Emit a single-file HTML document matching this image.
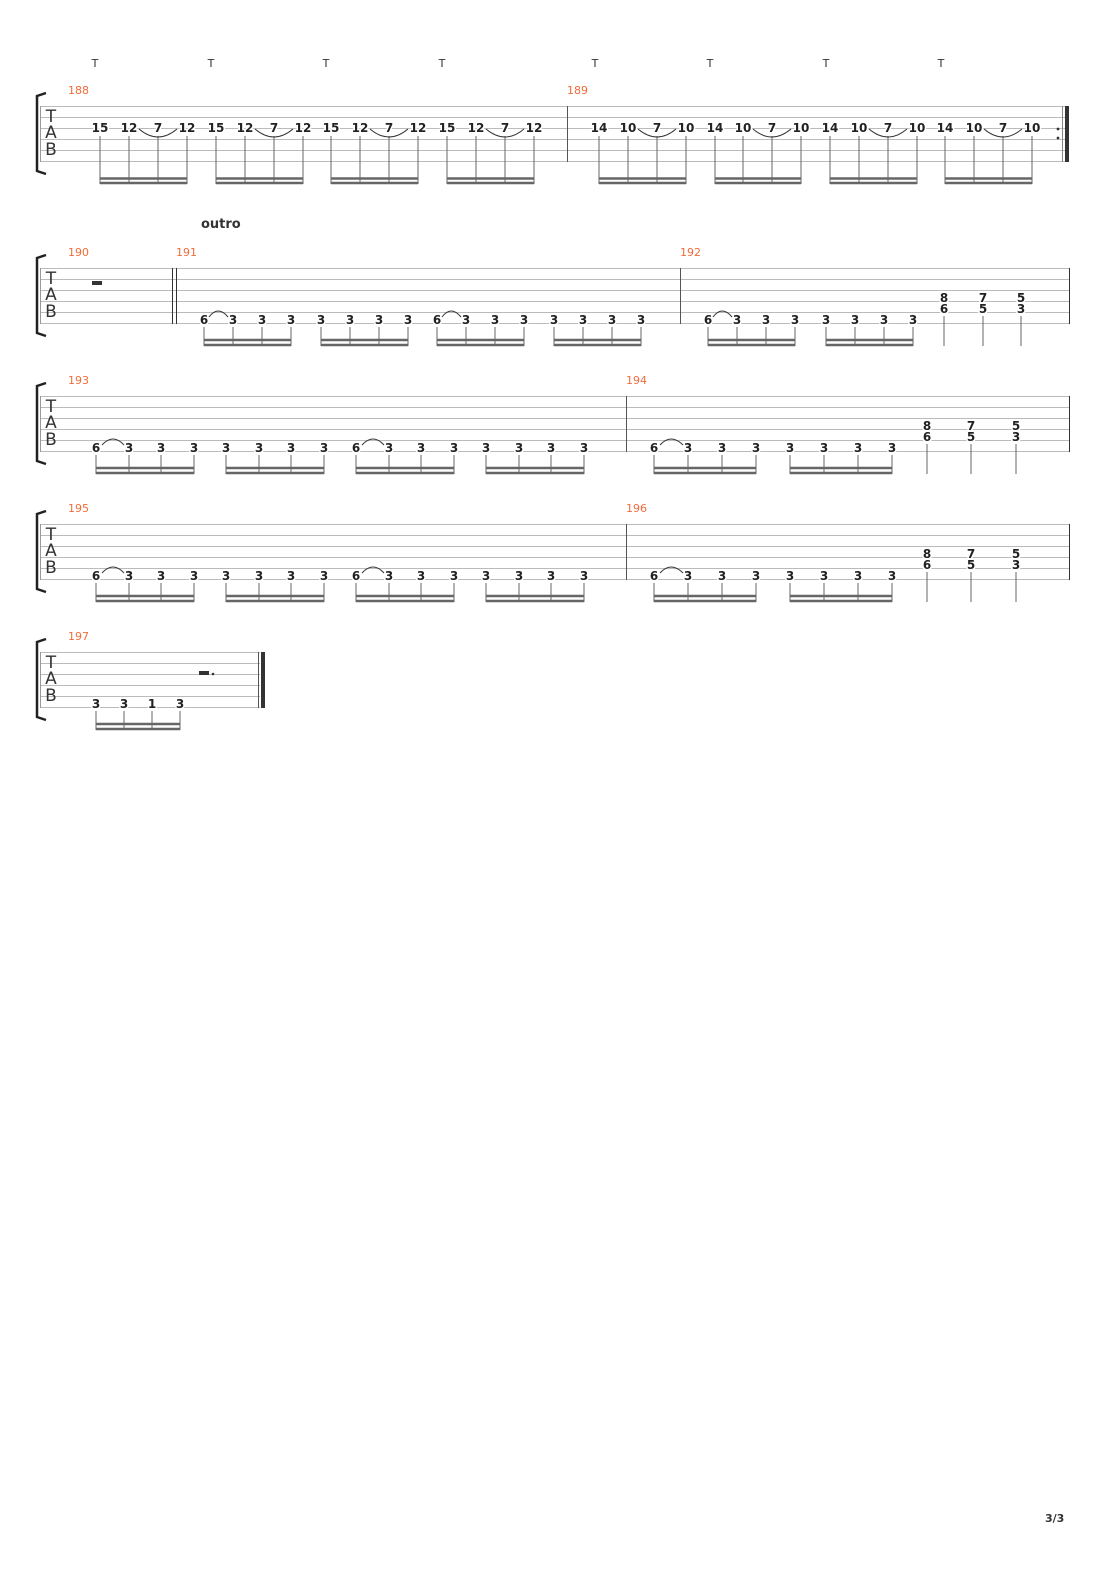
<!DOCTYPE html>
<html><head><meta charset="utf-8"><style>
body{margin:0;background:#fff}
svg{display:block}
.n{font:bold 12px "DejaVu Sans","Liberation Sans",sans-serif;text-anchor:middle;fill:#222;stroke:#fff;stroke-width:3;paint-order:stroke}
.m{font:11px "DejaVu Sans","Liberation Sans",sans-serif;fill:#f26b3a}
.tab{font:17px "DejaVu Sans","Liberation Sans",sans-serif;fill:#333;text-anchor:middle}
.t{font:11px "DejaVu Sans",sans-serif;fill:#333;text-anchor:middle}
.sl line{stroke:#bbb;stroke-width:1}
.st{stroke:#666;stroke-width:1}
.bm{stroke:#666;stroke-width:2.5}
.arc{fill:none;stroke:#333;stroke-width:1}
</style></head><body>
<svg width="1110" height="1570" xmlns="http://www.w3.org/2000/svg">
<!-- System 1 -->
<g class="t"><text x="95" y="67">T</text><text x="211" y="67">T</text><text x="326" y="67">T</text><text x="442" y="67">T</text><text x="595" y="67">T</text><text x="710" y="67">T</text><text x="826" y="67">T</text><text x="941" y="67">T</text></g>
<g class="sl"><line x1="40" y1="106.5" x2="1068" y2="106.5"/><line x1="40" y1="117.5" x2="1068" y2="117.5"/><line x1="40" y1="128.5" x2="1068" y2="128.5"/><line x1="40" y1="139.5" x2="1068" y2="139.5"/><line x1="40" y1="150.5" x2="1068" y2="150.5"/><line x1="40" y1="161.5" x2="1068" y2="161.5"/></g>
<line x1="40.5" y1="106" x2="40.5" y2="162" stroke="#999"/>
<path d="M46 93 L37 96 L37 171 L46 174" fill="none" stroke="#222" stroke-width="2.5"/>
<text class="tab" x="51" y="122">T</text><text class="tab" x="51" y="138">A</text><text class="tab" x="51" y="155">B</text>
<text class="m" x="68" y="94">188</text><text class="m" x="567" y="94">189</text>
<line x1="567.5" y1="106" x2="567.5" y2="162" stroke="#555"/>
<line x1="1062.5" y1="106" x2="1062.5" y2="162" stroke="#888"/>
<rect x="1065" y="106" width="4" height="56" fill="#333"/>
<circle cx="1058" cy="129" r="1.4" fill="#333"/><circle cx="1058" cy="138" r="1.4" fill="#333"/>
<g class="st">
<line x1="100" y1="136" x2="100" y2="184"/><line x1="129" y1="136" x2="129" y2="184"/><line x1="158" y1="136" x2="158" y2="184"/><line x1="187" y1="136" x2="187" y2="184"/>
<line x1="216" y1="136" x2="216" y2="184"/><line x1="245" y1="136" x2="245" y2="184"/><line x1="274" y1="136" x2="274" y2="184"/><line x1="303" y1="136" x2="303" y2="184"/>
<line x1="331" y1="136" x2="331" y2="184"/><line x1="360" y1="136" x2="360" y2="184"/><line x1="389" y1="136" x2="389" y2="184"/><line x1="418" y1="136" x2="418" y2="184"/>
<line x1="447" y1="136" x2="447" y2="184"/><line x1="476" y1="136" x2="476" y2="184"/><line x1="505" y1="136" x2="505" y2="184"/><line x1="534" y1="136" x2="534" y2="184"/>
<line x1="599" y1="136" x2="599" y2="184"/><line x1="628" y1="136" x2="628" y2="184"/><line x1="657" y1="136" x2="657" y2="184"/><line x1="686" y1="136" x2="686" y2="184"/>
<line x1="715" y1="136" x2="715" y2="184"/><line x1="743" y1="136" x2="743" y2="184"/><line x1="772" y1="136" x2="772" y2="184"/><line x1="801" y1="136" x2="801" y2="184"/>
<line x1="830" y1="136" x2="830" y2="184"/><line x1="859" y1="136" x2="859" y2="184"/><line x1="888" y1="136" x2="888" y2="184"/><line x1="917" y1="136" x2="917" y2="184"/>
<line x1="945" y1="136" x2="945" y2="184"/><line x1="974" y1="136" x2="974" y2="184"/><line x1="1003" y1="136" x2="1003" y2="184"/><line x1="1032" y1="136" x2="1032" y2="184"/>
</g>
<g class="bm">
<line x1="100" y1="178.5" x2="187" y2="178.5"/><line x1="100" y1="183" x2="187" y2="183"/>
<line x1="216" y1="178.5" x2="303" y2="178.5"/><line x1="216" y1="183" x2="303" y2="183"/>
<line x1="331" y1="178.5" x2="418" y2="178.5"/><line x1="331" y1="183" x2="418" y2="183"/>
<line x1="447" y1="178.5" x2="534" y2="178.5"/><line x1="447" y1="183" x2="534" y2="183"/>
<line x1="599" y1="178.5" x2="686" y2="178.5"/><line x1="599" y1="183" x2="686" y2="183"/>
<line x1="715" y1="178.5" x2="801" y2="178.5"/><line x1="715" y1="183" x2="801" y2="183"/>
<line x1="830" y1="178.5" x2="917" y2="178.5"/><line x1="830" y1="183" x2="917" y2="183"/>
<line x1="945" y1="178.5" x2="1032" y2="178.5"/><line x1="945" y1="183" x2="1032" y2="183"/>
</g>
<g class="arc">
<path d="M139 129 Q158 145 177 129"/><path d="M255 129 Q274 145 293 129"/><path d="M370 129 Q389 145 408 129"/><path d="M486 129 Q505 145 524 129"/>
<path d="M638 129 Q657 145 676 129"/><path d="M753 129 Q772 145 791 129"/><path d="M869 129 Q888 145 907 129"/><path d="M984 129 Q1003 145 1022 129"/>
</g>
<g class="n">
<text x="100" y="132">15</text><text x="129" y="132">12</text><text x="158" y="132">7</text><text x="187" y="132">12</text>
<text x="216" y="132">15</text><text x="245" y="132">12</text><text x="274" y="132">7</text><text x="303" y="132">12</text>
<text x="331" y="132">15</text><text x="360" y="132">12</text><text x="389" y="132">7</text><text x="418" y="132">12</text>
<text x="447" y="132">15</text><text x="476" y="132">12</text><text x="505" y="132">7</text><text x="534" y="132">12</text>
<text x="599" y="132">14</text><text x="628" y="132">10</text><text x="657" y="132">7</text><text x="686" y="132">10</text>
<text x="715" y="132">14</text><text x="743" y="132">10</text><text x="772" y="132">7</text><text x="801" y="132">10</text>
<text x="830" y="132">14</text><text x="859" y="132">10</text><text x="888" y="132">7</text><text x="917" y="132">10</text>
<text x="945" y="132">14</text><text x="974" y="132">10</text><text x="1003" y="132">7</text><text x="1032" y="132">10</text>
</g>

<!-- System 2 -->
<text x="201" y="228" style="font:bold 13px 'DejaVu Sans',sans-serif;fill:#333">outro</text>
<g class="sl"><line x1="40" y1="268.5" x2="1070" y2="268.5"/><line x1="40" y1="279.5" x2="1070" y2="279.5"/><line x1="40" y1="290.5" x2="1070" y2="290.5"/><line x1="40" y1="301.5" x2="1070" y2="301.5"/><line x1="40" y1="312.5" x2="1070" y2="312.5"/><line x1="40" y1="323.5" x2="1070" y2="323.5"/></g>
<line x1="40.5" y1="268" x2="40.5" y2="324" stroke="#999"/>
<path d="M46 255 L37 258 L37 333 L46 336" fill="none" stroke="#222" stroke-width="2.5"/>
<text class="tab" x="51" y="284">T</text><text class="tab" x="51" y="300">A</text><text class="tab" x="51" y="317">B</text>
<text class="m" x="68" y="256">190</text><text class="m" x="176" y="256">191</text><text class="m" x="680" y="256">192</text>
<rect x="92" y="281" width="10" height="4" fill="#333"/>
<line x1="172.5" y1="268" x2="172.5" y2="324" stroke="#333"/><line x1="176.5" y1="268" x2="176.5" y2="324" stroke="#333"/>
<line x1="680.5" y1="268" x2="680.5" y2="324" stroke="#555"/><line x1="1069.5" y1="268" x2="1069.5" y2="324" stroke="#333"/>
<g class="st">
<line x1="204" y1="327" x2="204" y2="346"/><line x1="233" y1="327" x2="233" y2="346"/><line x1="262" y1="327" x2="262" y2="346"/><line x1="291" y1="327" x2="291" y2="346"/>
<line x1="321" y1="327" x2="321" y2="346"/><line x1="350" y1="327" x2="350" y2="346"/><line x1="379" y1="327" x2="379" y2="346"/><line x1="408" y1="327" x2="408" y2="346"/>
<line x1="437" y1="327" x2="437" y2="346"/><line x1="466" y1="327" x2="466" y2="346"/><line x1="495" y1="327" x2="495" y2="346"/><line x1="524" y1="327" x2="524" y2="346"/>
<line x1="554" y1="327" x2="554" y2="346"/><line x1="583" y1="327" x2="583" y2="346"/><line x1="612" y1="327" x2="612" y2="346"/><line x1="641" y1="327" x2="641" y2="346"/>
<line x1="708" y1="327" x2="708" y2="346"/><line x1="737" y1="327" x2="737" y2="346"/><line x1="766" y1="327" x2="766" y2="346"/><line x1="795" y1="327" x2="795" y2="346"/>
<line x1="826" y1="327" x2="826" y2="346"/><line x1="855" y1="327" x2="855" y2="346"/><line x1="884" y1="327" x2="884" y2="346"/><line x1="913" y1="327" x2="913" y2="346"/>
<line x1="944" y1="316" x2="944" y2="346"/><line x1="983" y1="316" x2="983" y2="346"/><line x1="1021" y1="316" x2="1021" y2="346"/>
</g>
<g class="bm">
<line x1="204" y1="340" x2="291" y2="340"/><line x1="204" y1="345" x2="291" y2="345"/>
<line x1="321" y1="340" x2="408" y2="340"/><line x1="321" y1="345" x2="408" y2="345"/>
<line x1="437" y1="340" x2="524" y2="340"/><line x1="437" y1="345" x2="524" y2="345"/>
<line x1="554" y1="340" x2="641" y2="340"/><line x1="554" y1="345" x2="641" y2="345"/>
<line x1="708" y1="340" x2="795" y2="340"/><line x1="708" y1="345" x2="795" y2="345"/>
<line x1="826" y1="340" x2="913" y2="340"/><line x1="826" y1="345" x2="913" y2="345"/>
</g>
<g class="arc"><path d="M209 317 Q218 305 228 317"/><path d="M442 317 Q451 305 461 317"/><path d="M713 317 Q722 305 732 317"/></g>
<g class="n">
<text x="204" y="324">6</text><text x="233" y="324">3</text><text x="262" y="324">3</text><text x="291" y="324">3</text>
<text x="321" y="324">3</text><text x="350" y="324">3</text><text x="379" y="324">3</text><text x="408" y="324">3</text>
<text x="437" y="324">6</text><text x="466" y="324">3</text><text x="495" y="324">3</text><text x="524" y="324">3</text>
<text x="554" y="324">3</text><text x="583" y="324">3</text><text x="612" y="324">3</text><text x="641" y="324">3</text>
<text x="708" y="324">6</text><text x="737" y="324">3</text><text x="766" y="324">3</text><text x="795" y="324">3</text>
<text x="826" y="324">3</text><text x="855" y="324">3</text><text x="884" y="324">3</text><text x="913" y="324">3</text>
<text x="944" y="302">8</text><text x="944" y="313">6</text><text x="983" y="302">7</text><text x="983" y="313">5</text><text x="1021" y="302">5</text><text x="1021" y="313">3</text>
</g>

<!-- System 3 -->
<g class="sl"><line x1="40" y1="396.5" x2="1070" y2="396.5"/><line x1="40" y1="407.5" x2="1070" y2="407.5"/><line x1="40" y1="418.5" x2="1070" y2="418.5"/><line x1="40" y1="429.5" x2="1070" y2="429.5"/><line x1="40" y1="440.5" x2="1070" y2="440.5"/><line x1="40" y1="451.5" x2="1070" y2="451.5"/></g>
<line x1="40.5" y1="396" x2="40.5" y2="452" stroke="#999"/>
<path d="M46 383 L37 386 L37 461 L46 464" fill="none" stroke="#222" stroke-width="2.5"/>
<text class="tab" x="51" y="412">T</text><text class="tab" x="51" y="428">A</text><text class="tab" x="51" y="445">B</text>
<text class="m" x="68" y="384">193</text><text class="m" x="626" y="384">194</text>
<line x1="626.5" y1="396" x2="626.5" y2="452" stroke="#555"/><line x1="1069.5" y1="396" x2="1069.5" y2="452" stroke="#333"/>
<g class="st">
<line x1="96" y1="455" x2="96" y2="474"/><line x1="129" y1="455" x2="129" y2="474"/><line x1="161" y1="455" x2="161" y2="474"/><line x1="194" y1="455" x2="194" y2="474"/>
<line x1="226" y1="455" x2="226" y2="474"/><line x1="259" y1="455" x2="259" y2="474"/><line x1="291" y1="455" x2="291" y2="474"/><line x1="324" y1="455" x2="324" y2="474"/>
<line x1="356" y1="455" x2="356" y2="474"/><line x1="389" y1="455" x2="389" y2="474"/><line x1="421" y1="455" x2="421" y2="474"/><line x1="454" y1="455" x2="454" y2="474"/>
<line x1="486" y1="455" x2="486" y2="474"/><line x1="519" y1="455" x2="519" y2="474"/><line x1="551" y1="455" x2="551" y2="474"/><line x1="584" y1="455" x2="584" y2="474"/>
<line x1="654" y1="455" x2="654" y2="474"/><line x1="688" y1="455" x2="688" y2="474"/><line x1="722" y1="455" x2="722" y2="474"/><line x1="756" y1="455" x2="756" y2="474"/>
<line x1="790" y1="455" x2="790" y2="474"/><line x1="824" y1="455" x2="824" y2="474"/><line x1="858" y1="455" x2="858" y2="474"/><line x1="892" y1="455" x2="892" y2="474"/>
<line x1="927" y1="444" x2="927" y2="474"/><line x1="971" y1="444" x2="971" y2="474"/><line x1="1016" y1="444" x2="1016" y2="474"/>
</g>
<g class="bm">
<line x1="96" y1="468" x2="194" y2="468"/><line x1="96" y1="473" x2="194" y2="473"/>
<line x1="226" y1="468" x2="324" y2="468"/><line x1="226" y1="473" x2="324" y2="473"/>
<line x1="356" y1="468" x2="454" y2="468"/><line x1="356" y1="473" x2="454" y2="473"/>
<line x1="486" y1="468" x2="584" y2="468"/><line x1="486" y1="473" x2="584" y2="473"/>
<line x1="654" y1="468" x2="756" y2="468"/><line x1="654" y1="473" x2="756" y2="473"/>
<line x1="790" y1="468" x2="892" y2="468"/><line x1="790" y1="473" x2="892" y2="473"/>
</g>
<g class="arc"><path d="M102 445 Q113 433 124 445"/><path d="M362 445 Q373 433 384 445"/><path d="M660 445 Q671 433 683 445"/></g>
<g class="n">
<text x="96" y="452">6</text><text x="129" y="452">3</text><text x="161" y="452">3</text><text x="194" y="452">3</text>
<text x="226" y="452">3</text><text x="259" y="452">3</text><text x="291" y="452">3</text><text x="324" y="452">3</text>
<text x="356" y="452">6</text><text x="389" y="452">3</text><text x="421" y="452">3</text><text x="454" y="452">3</text>
<text x="486" y="452">3</text><text x="519" y="452">3</text><text x="551" y="452">3</text><text x="584" y="452">3</text>
<text x="654" y="452">6</text><text x="688" y="452">3</text><text x="722" y="452">3</text><text x="756" y="452">3</text>
<text x="790" y="452">3</text><text x="824" y="452">3</text><text x="858" y="452">3</text><text x="892" y="452">3</text>
<text x="927" y="430">8</text><text x="927" y="441">6</text><text x="971" y="430">7</text><text x="971" y="441">5</text><text x="1016" y="430">5</text><text x="1016" y="441">3</text>
</g>

<!-- System 4 -->
<g transform="translate(0,128)">
<g class="sl"><line x1="40" y1="396.5" x2="1070" y2="396.5"/><line x1="40" y1="407.5" x2="1070" y2="407.5"/><line x1="40" y1="418.5" x2="1070" y2="418.5"/><line x1="40" y1="429.5" x2="1070" y2="429.5"/><line x1="40" y1="440.5" x2="1070" y2="440.5"/><line x1="40" y1="451.5" x2="1070" y2="451.5"/></g>
<line x1="40.5" y1="396" x2="40.5" y2="452" stroke="#999"/>
<path d="M46 383 L37 386 L37 461 L46 464" fill="none" stroke="#222" stroke-width="2.5"/>
<text class="tab" x="51" y="412">T</text><text class="tab" x="51" y="428">A</text><text class="tab" x="51" y="445">B</text>
<text class="m" x="68" y="384">195</text><text class="m" x="626" y="384">196</text>
<line x1="626.5" y1="396" x2="626.5" y2="452" stroke="#555"/><line x1="1069.5" y1="396" x2="1069.5" y2="452" stroke="#333"/>
<g class="st">
<line x1="96" y1="455" x2="96" y2="474"/><line x1="129" y1="455" x2="129" y2="474"/><line x1="161" y1="455" x2="161" y2="474"/><line x1="194" y1="455" x2="194" y2="474"/>
<line x1="226" y1="455" x2="226" y2="474"/><line x1="259" y1="455" x2="259" y2="474"/><line x1="291" y1="455" x2="291" y2="474"/><line x1="324" y1="455" x2="324" y2="474"/>
<line x1="356" y1="455" x2="356" y2="474"/><line x1="389" y1="455" x2="389" y2="474"/><line x1="421" y1="455" x2="421" y2="474"/><line x1="454" y1="455" x2="454" y2="474"/>
<line x1="486" y1="455" x2="486" y2="474"/><line x1="519" y1="455" x2="519" y2="474"/><line x1="551" y1="455" x2="551" y2="474"/><line x1="584" y1="455" x2="584" y2="474"/>
<line x1="654" y1="455" x2="654" y2="474"/><line x1="688" y1="455" x2="688" y2="474"/><line x1="722" y1="455" x2="722" y2="474"/><line x1="756" y1="455" x2="756" y2="474"/>
<line x1="790" y1="455" x2="790" y2="474"/><line x1="824" y1="455" x2="824" y2="474"/><line x1="858" y1="455" x2="858" y2="474"/><line x1="892" y1="455" x2="892" y2="474"/>
<line x1="927" y1="444" x2="927" y2="474"/><line x1="971" y1="444" x2="971" y2="474"/><line x1="1016" y1="444" x2="1016" y2="474"/>
</g>
<g class="bm">
<line x1="96" y1="468" x2="194" y2="468"/><line x1="96" y1="473" x2="194" y2="473"/>
<line x1="226" y1="468" x2="324" y2="468"/><line x1="226" y1="473" x2="324" y2="473"/>
<line x1="356" y1="468" x2="454" y2="468"/><line x1="356" y1="473" x2="454" y2="473"/>
<line x1="486" y1="468" x2="584" y2="468"/><line x1="486" y1="473" x2="584" y2="473"/>
<line x1="654" y1="468" x2="756" y2="468"/><line x1="654" y1="473" x2="756" y2="473"/>
<line x1="790" y1="468" x2="892" y2="468"/><line x1="790" y1="473" x2="892" y2="473"/>
</g>
<g class="arc"><path d="M102 445 Q113 433 124 445"/><path d="M362 445 Q373 433 384 445"/><path d="M660 445 Q671 433 683 445"/></g>
<g class="n">
<text x="96" y="452">6</text><text x="129" y="452">3</text><text x="161" y="452">3</text><text x="194" y="452">3</text>
<text x="226" y="452">3</text><text x="259" y="452">3</text><text x="291" y="452">3</text><text x="324" y="452">3</text>
<text x="356" y="452">6</text><text x="389" y="452">3</text><text x="421" y="452">3</text><text x="454" y="452">3</text>
<text x="486" y="452">3</text><text x="519" y="452">3</text><text x="551" y="452">3</text><text x="584" y="452">3</text>
<text x="654" y="452">6</text><text x="688" y="452">3</text><text x="722" y="452">3</text><text x="756" y="452">3</text>
<text x="790" y="452">3</text><text x="824" y="452">3</text><text x="858" y="452">3</text><text x="892" y="452">3</text>
<text x="927" y="430">8</text><text x="927" y="441">6</text><text x="971" y="430">7</text><text x="971" y="441">5</text><text x="1016" y="430">5</text><text x="1016" y="441">3</text>
</g>
</g>

<!-- System 5 -->
<g class="sl"><line x1="40" y1="652.5" x2="260" y2="652.5"/><line x1="40" y1="663.5" x2="260" y2="663.5"/><line x1="40" y1="674.5" x2="260" y2="674.5"/><line x1="40" y1="685.5" x2="260" y2="685.5"/><line x1="40" y1="696.5" x2="260" y2="696.5"/><line x1="40" y1="707.5" x2="260" y2="707.5"/></g>
<line x1="40.5" y1="652" x2="40.5" y2="708" stroke="#999"/>
<path d="M46 639 L37 642 L37 717 L46 720" fill="none" stroke="#222" stroke-width="2.5"/>
<text class="tab" x="51" y="668">T</text><text class="tab" x="51" y="684">A</text><text class="tab" x="51" y="701">B</text>
<text class="m" x="68" y="640">197</text>
<rect x="199" y="671" width="10" height="4" fill="#333"/><circle cx="213" cy="674" r="1.3" fill="#333"/>
<line x1="258.5" y1="652" x2="258.5" y2="708" stroke="#555"/><rect x="261" y="652" width="4" height="56" fill="#333"/>
<g class="st"><line x1="96" y1="711" x2="96" y2="730"/><line x1="124" y1="711" x2="124" y2="730"/><line x1="152" y1="711" x2="152" y2="730"/><line x1="180" y1="711" x2="180" y2="730"/></g>
<g class="bm"><line x1="96" y1="724" x2="180" y2="724"/><line x1="96" y1="729" x2="180" y2="729"/></g>
<g class="n"><text x="96" y="708">3</text><text x="124" y="708">3</text><text x="152" y="708">1</text><text x="180" y="708">3</text></g>

<text x="1045" y="1522" style="font:bold 11px 'DejaVu Sans',sans-serif;fill:#333">3/3</text>
</svg>
</body></html>
